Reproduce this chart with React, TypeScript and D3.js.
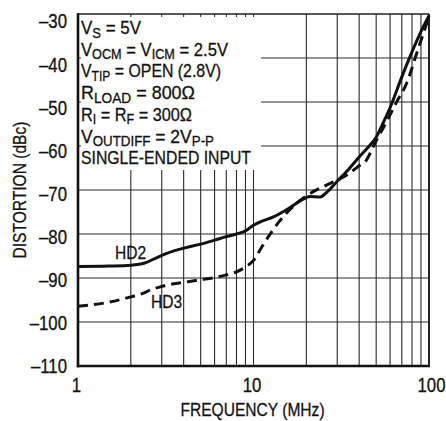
import React from "react";
import * as d3 from "d3";

const hd2Freq = [1, 1.5, 2, 2.4, 2.8, 3.2, 4, 5, 6, 7, 8, 9, 10, 11, 13, 16, 19, 21, 24, 26, 30, 35, 40, 45, 50, 55, 60, 70, 80, 90, 100];
const hd2Val = [-87.4, -87.3, -87.1, -86.6, -85.4, -84.4, -83.2, -82.3, -81.4, -80.6, -80, -79.3, -78, -77.2, -76.1, -74.1, -72.2, -71.5, -71.6, -70.6, -68, -65.2, -62.5, -60.3, -58, -54.6, -51.3, -44.3, -38.6, -34, -30.4];
const hd3Freq = [1, 1.5, 2, 2.3, 2.6, 3, 4, 5, 6, 7, 8, 9, 10, 11.4, 14, 17.6, 21, 27, 34, 40, 44, 47, 50, 55, 60, 65, 75, 85, 100];
const hd3Val = [-96.4, -95.5, -94.3, -93.6, -92.7, -91.9, -91, -90.4, -89.9, -89.3, -88.6, -87.5, -86, -82.3, -77.2, -73, -70.8, -68.6, -66.6, -64.5, -63.2, -61, -58.8, -55.8, -52.9, -50.2, -45.5, -39, -30.6];

const yTicks = [-30, -40, -50, -60, -70, -80, -90, -100, -110];
const xTickLabels = [1, 10, 100];
const xGrid = [2, 3, 4, 5, 6, 7, 8, 9, 10, 20, 30, 40, 50, 60, 70, 80, 90];

const notes = [
  [["V", ""], ["S", "sub"], [" = 5V", ""]],
  [["V", ""], ["OCM", "sub"], [" = V", ""], ["ICM", "sub"], [" = 2.5V", ""]],
  [["V", ""], ["TIP", "sub"], [" = OPEN (2.8V)", ""]],
  [["R", ""], ["LOAD", "sub"], [" = 800\u03A9", ""]],
  [["R", ""], ["I", "sub"], [" = R", ""], ["F", "sub"], [" = 300\u03A9", ""]],
  [["V", ""], ["OUTDIFF", "sub"], [" = 2V", ""], ["P-P", "sub"]],
  [["SINGLE-ENDED INPUT", ""]],
];
const noteWidths = [60, 147, 140, 114, 111, 133, 170];

const FONT = "'Liberation Sans', Arial, sans-serif";
const SX = 0.82;

function NText(props: { x: number; y: number; anchor?: string; size?: number; rotate?: number; baseline?: string; sx?: number; children: React.ReactNode }) {
  const { x, y, anchor = "start", size = 19, rotate = 0, baseline, sx = SX, children } = props;
  return (
    <g transform={`translate(${x},${y}) rotate(${rotate}) scale(${sx},1)`}>
      <text x={0} y={0} fontSize={size} textAnchor={anchor} dominantBaseline={baseline} fill="#111" stroke="#111" strokeWidth={0.3}>
        {children}
      </text>
    </g>
  );
}

export default function App() {
  const L = 78, R = 429, T = 14, B = 366;
  const x = d3.scaleLog().domain([1, 100]).range([L, R]);
  const y = d3.scaleLinear().domain([-30, -110]).range([T, B]);
  const yLab = d3.scaleLinear().domain([-30, -110]).range([22, 367]);
  const line = d3
    .line<[number, number]>()
    .x((d) => x(d[0]))
    .y((d) => y(d[1]))
    .curve(d3.curveMonotoneX);
  const hd2 = hd2Freq.map((f, i) => [f, hd2Val[i]] as [number, number]);
  const hd3 = hd3Freq.map((f, i) => [f, hd3Val[i]] as [number, number]);

  const boxR = 261, boxB = 170;

  return (
    <svg width={446} height={421} style={{ position: "absolute", left: 0, top: 0 }} fontFamily={FONT}>
      <rect x={0} y={0} width={446} height={421} fill="#fff" />
      {yTicks.slice(1, -1).map((v) => (
        <line key={"h" + v} x1={y(v) < boxB ? boxR : L} x2={R} y1={y(v)} y2={y(v)} stroke="#2a2a2a" strokeWidth={1.1} />
      ))}
      {xGrid.map((f) => (
        <line key={"v" + f} x1={x(f)} x2={x(f)} y1={x(f) < boxR ? boxB : T} y2={B} stroke="#2a2a2a" strokeWidth={1.1} />
      ))}
      {xGrid.filter((f) => x(f) < boxR).map((f) => (
        <line key={"tt" + f} x1={x(f)} x2={x(f)} y1={T} y2={T + 3} stroke="#2a2a2a" strokeWidth={1} />
      ))}
      {yTicks.slice(1, -1).filter((v) => y(v) < boxB).map((v) => (
        <line key={"lt" + v} x1={L} x2={L + 3} y1={y(v)} y2={y(v)} stroke="#2a2a2a" strokeWidth={1} />
      ))}
      <line x1={L} x2={R} y1={T} y2={T} stroke="#222" strokeWidth={1.6} />
      <line x1={R} x2={R} y1={T} y2={B} stroke="#222" strokeWidth={2} />
      <line x1={L} x2={L} y1={T - 0.8} y2={B + 1.2} stroke="#111" strokeWidth={2.6} />
      <line x1={L - 1.2} x2={R + 1} y1={B} y2={B} stroke="#111" strokeWidth={2.6} />
      <path d={line(hd3) || ""} fill="none" stroke="#111" strokeWidth={3} strokeDasharray="10 6" />
      <path d={line(hd2) || ""} fill="none" stroke="#111" strokeWidth={3} />
      {notes.map((ln, i) => (
        <text
          key={"n" + i}
          x={81}
          y={34 + i * 21.7}
          fontSize={19}
          fill="#111"
          stroke="#111"
          strokeWidth={0.3}
          textLength={noteWidths[i]}
          lengthAdjust="spacingAndGlyphs"
        >
          {ln.map((seg, j) =>
            seg[1] === "sub" ? (
              <tspan key={j} fontSize={14.5} dy={3.5}>{seg[0]}</tspan>
            ) : (
              <tspan key={j} dy={j > 0 && ln[j - 1][1] === "sub" ? -3.5 : 0}>{seg[0]}</tspan>
            )
          )}
        </text>
      ))}
      <NText x={115} y={259}>HD2</NText>
      <NText x={151} y={308}>HD3</NText>
      {yTicks.map((v) => (
        <NText key={"yl" + v} x={67} y={yLab(v)} anchor="end" baseline="central" size={19.5} sx={0.86}>
          {"\u2013" + Math.abs(v)}
        </NText>
      ))}
      {xTickLabels.map((f) => (
        <NText key={"xl" + f} x={x(f) + (f === 100 ? 2.5 : -1.5)} y={391.5} anchor="middle" size={19.5} sx={0.86}>
          {String(f)}
        </NText>
      ))}
      <NText x={252.5} y={416}>
        <tspan textAnchor="middle">FREQUENCY (MHz)</tspan>
      </NText>
      <NText x={26} y={190} rotate={-90} anchor="middle">
        DISTORTION (dBc)
      </NText>
    </svg>
  );
}
